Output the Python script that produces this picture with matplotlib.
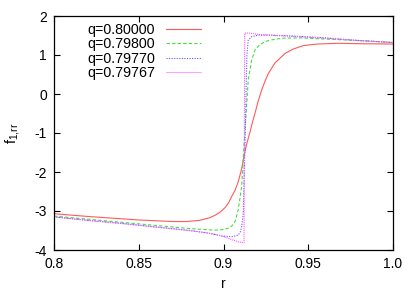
import matplotlib
matplotlib.use("Agg")
import matplotlib.pyplot as plt

# ---- data ----
q_labels = ["q=0.80000", "q=0.79800", "q=0.79770", "q=0.79767"]

r_red = [0.800, 0.820, 0.840, 0.850, 0.860, 0.870, 0.878, 0.886, 0.892, 0.895, 0.898, 0.901,
         0.903, 0.9048, 0.9068, 0.9087, 0.9107, 0.9123, 0.9137, 0.9156, 0.9170, 0.9186,
         0.9205, 0.9225, 0.9245, 0.9264, 0.9304, 0.9363, 0.941, 0.947, 0.955, 0.967,
         0.980, 1.000]
f_red = [-3.07, -3.14, -3.20, -3.23, -3.25, -3.27, -3.27, -3.24, -3.17, -3.11, -3.03, -2.91,
         -2.79, -2.63, -2.47, -2.25, -1.92, -1.55, -1.28, -0.98, -0.74, -0.49,
         -0.18, 0.10, 0.33, 0.52, 0.80, 1.04, 1.15, 1.24, 1.28, 1.30,
         1.29, 1.28]

r_green = [0.800, 0.820, 0.840, 0.860, 0.880, 0.890, 0.895, 0.899, 0.9029, 0.9050, 0.9068,
           0.9087, 0.9107, 0.9117, 0.9127, 0.9137, 0.9146, 0.9166, 0.9186, 0.9215, 0.9245,
           0.9274, 0.9343, 0.945, 0.960, 0.980, 1.000]
f_green = [-3.13, -3.21, -3.29, -3.37, -3.45, -3.48, -3.49, -3.48, -3.44, -3.38, -3.27,
           -2.97, -2.38, -1.61, -0.92, -0.24, 0.36, 0.87, 1.13, 1.27, 1.34,
           1.38, 1.43, 1.44, 1.41, 1.37, 1.32]

r_blue = [0.800, 0.820, 0.840, 0.860, 0.880, 0.890, 0.895, 0.8989, 0.9048, 0.9087, 0.9100,
          0.9107, 0.9117, 0.9121, 0.9127, 0.9133, 0.9138, 0.9146, 0.9166, 0.9205, 0.9274,
          0.940, 0.960, 0.9766, 1.000]
f_blue = [-3.15, -3.24, -3.32, -3.41, -3.50, -3.56, -3.60, -3.64, -3.66, -3.62, -3.53,
          -3.40, -3.06, -2.20, -1.26, 0.00, 1.00, 1.38, 1.47, 1.51, 1.51,
          1.49, 1.44, 1.38, 1.32]

r_mag = [0.800, 0.820, 0.840, 0.860, 0.880, 0.890, 0.895, 0.8989, 0.904, 0.9087, 0.9117,
         0.9121, 0.9125, 0.9160, 0.9205, 0.9300, 0.940, 0.960, 0.9766, 1.000]
f_mag = [-3.15, -3.24, -3.32, -3.41, -3.50, -3.56, -3.60, -3.64, -3.72, -3.79, -3.81,
         -3.81, 1.56, 1.56, 1.53, 1.50, 1.48, 1.43, 1.38, 1.32]

x_ticks = [0.8, 0.85, 0.9, 0.95, 1.0]
x_tick_labels = ["0.8", "0.85", "0.9", "0.95", "1.0"]
y_ticks = [-4, -3, -2, -1, 0, 1, 2]
y_tick_labels = ["-4", "-3", "-2", "-1", "0", "1", "2"]

plt.rcParams['font.family'] = ['Liberation Sans', 'DejaVu Sans']

fig = plt.figure(figsize=(4.17, 2.92), dpi=100)
ax = fig.add_axes([54/417, 42/292, 339/417, 234/292])

series = [
    (r_red, f_red, '#ff5a5a', '-'),
    (r_green, f_green, '#3ee03e', (0, (3, 2))),
    (r_blue, f_blue, '#5a5aff', (0, (1, 1.3))),
    (r_mag, f_mag, '#ff5aff', (0, (1, 0.8))),
]
for (rr, ff, c, ls), lab in zip(series, q_labels):
    ax.plot(rr, ff, color=c, linestyle=ls, linewidth=0.8, label=lab)

ax.set_xlim(0.8, 1.0)
ax.set_ylim(-4, 2)
ax.set_xticks(x_ticks)
ax.set_xticklabels(x_tick_labels)
ax.set_yticks(y_ticks)
ax.set_yticklabels(y_tick_labels)
ax.tick_params(direction='in', length=4, width=0.8, top=True, right=True,
               labelsize=10, pad=5)
for s in ax.spines.values():
    s.set_linewidth(0.9)

ax.set_xlabel('r', fontsize=10, labelpad=4)
ax.set_ylabel(r'$\mathregular{f_{1{,}rr}}$', fontsize=10.5, labelpad=9)

leg = ax.legend(loc='upper left', bbox_to_anchor=(87/417, 1 - 23/292),
                bbox_transform=fig.transFigure, frameon=False, markerfirst=False,
                prop={'size': 10.3}, handlelength=2.45, handletextpad=0.75,
                labelspacing=0.03, borderpad=0, borderaxespad=0)

fig.savefig('out.png', dpi=100)
